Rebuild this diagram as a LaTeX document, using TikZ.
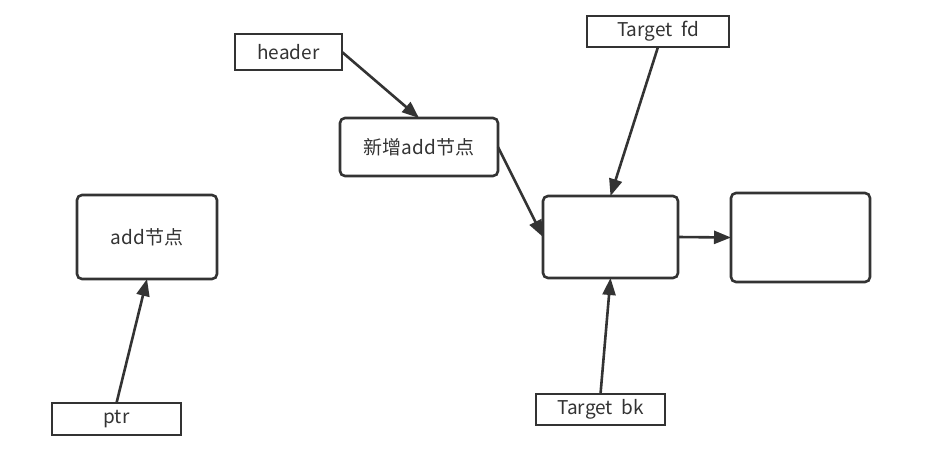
\documentclass[tikz,border=0pt]{standalone}
\usepackage{fontspec}
\setmainfont{Noto Sans CJK SC}
\usetikzlibrary{arrows.meta}
\definecolor{ink}{HTML}{333333}
\tikzset{
  sqbox/.style={draw=ink, line width=2.6pt, fill=white, text=ink, inner sep=0pt, outer sep=0pt, anchor=north west, font=\fontsize{19}{22}\selectfont},
  rbox/.style={sqbox, rounded corners=5pt},
  link/.style={draw=ink, line width=2.6pt, -{Triangle[length=17pt,width=13pt]}}
}
\begin{document}
\begin{tikzpicture}[x=1pt,y=-1pt]
\useasboundingbox (0,0) rectangle (931,450);
\node[sqbox, minimum width=107pt, minimum height=36pt] (header) at (235,34) {header};
\node[rbox, minimum width=158pt, minimum height=58pt] (new) at (340,118) {新增add节点};
\node[sqbox, minimum width=142pt, minimum height=31pt] (fd) at (587,16) {Target\ \ fd};
\node[rbox, minimum width=135pt, minimum height=82pt] (mid) at (543,196) {};
\node[rbox, minimum width=139pt, minimum height=89pt] (right) at (731,193) {};
\node[rbox, minimum width=140pt, minimum height=84pt] (add) at (77,195) {add节点};
\node[sqbox, minimum width=129pt, minimum height=32pt] (ptr) at (52,403) {ptr};
\node[sqbox, minimum width=129pt, minimum height=31pt] (bk) at (536,394) {Target\ \ bk};
\draw[link] (header.east) -- (new.north);
\draw[link] (new.east) -- (mid.west);
\draw[link] (fd.south) -- (mid.north);
\draw[link] (mid.east) -- (right.west);
\draw[link] (bk.north) -- (mid.south);
\draw[link] (ptr.north) -- (add.south);
\end{tikzpicture}
\end{document}
